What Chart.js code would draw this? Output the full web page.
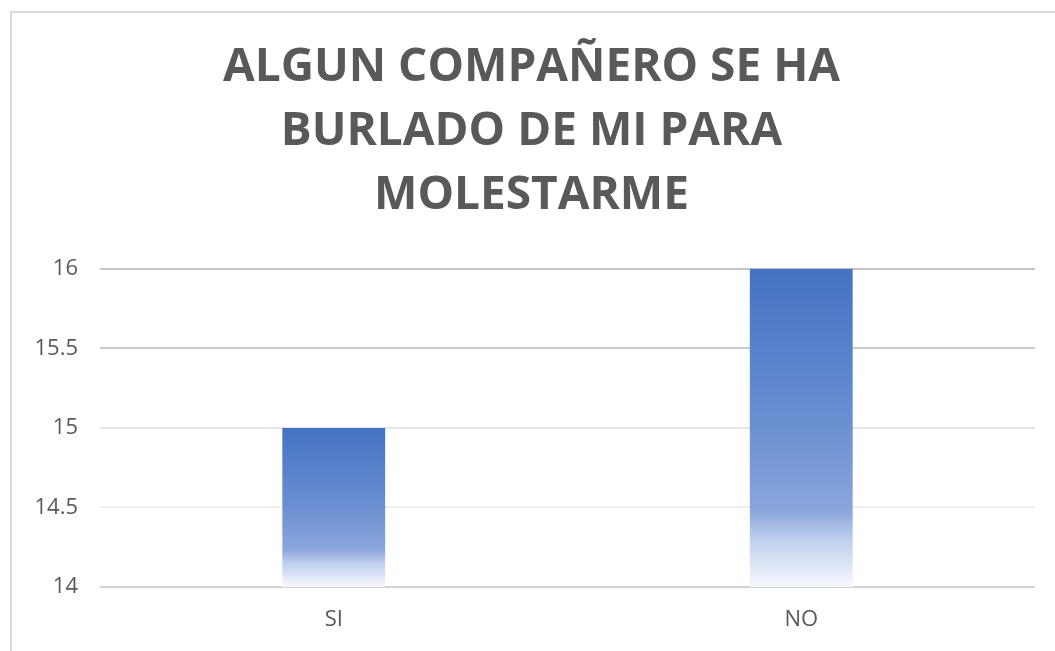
<!DOCTYPE html>
<html>
<head>
<meta charset="utf-8">
<script src="https://cdn.jsdelivr.net/npm/chart.js@4/dist/chart.umd.min.js"></script>
<style>
  html, body { margin: 0; padding: 0; background: #fff; }
  #wrap { position: absolute; left: 0; top: 0; width: 1055px; height: 651px; }
  #frame {
    position: absolute; left: 10px; top: 11px; width: 1100px; height: 700px;
    border-left: 2px solid #d9d9d9; border-top: 2px solid #d9d9d9;
    pointer-events: none;
  }
</style>
</head>
<body>
<div id="wrap"><canvas id="chart" width="1055" height="651"></canvas></div>
<div id="frame"></div>
<script>
'use strict';

// Datos del gráfico
const categorias = ['SI', 'NO'];
const valores = [15, 16];
const tituloLineas = ['ALGUN COMPAÑERO SE HA', 'BURLADO DE MI PARA', 'MOLESTARME'];
const yMin = 14;
const yMax = 16;
const yPaso = 0.5;

// Colores de las líneas de la cuadrícula (de 14 a 16)
const coloresGrid = ['#d2d2d2', '#efefef', '#e6e6e6', '#cacaca', '#c4c4c4'];

function degradado(context) {
  const chart = context.chart;
  if (!chart.chartArea) return '#4472C4';
  const y = chart.scales.y;
  const top = y.getPixelForValue(context.raw);
  const base = y.getPixelForValue(yMin);
  const g = chart.ctx.createLinearGradient(0, top, 0, base);
  g.addColorStop(0, 'rgb(68,114,196)');
  g.addColorStop(0.5, 'rgb(108,144,210)');
  g.addColorStop(0.76, 'rgb(138,166,220)');
  g.addColorStop(0.86, 'rgb(196,210,238)');
  g.addColorStop(1, 'rgb(246,248,253)');
  return g;
}

const ctx = document.getElementById('chart').getContext('2d');
new Chart(ctx, {
  type: 'bar',
  data: {
    labels: categorias,
    datasets: [{
      data: valores,
      backgroundColor: degradado,
      borderWidth: 0,
      barPercentage: 0.22,
      categoryPercentage: 1
    }]
  },
  options: {
    responsive: false,
    animation: false,
    layout: { padding: { left: 28, right: 20, top: 0, bottom: 0 } },
    plugins: {
      legend: { display: false },
      tooltip: { enabled: false },
      title: {
        display: true,
        text: tituloLineas,
        color: '#595959',
        font: { family: 'Open Sans', size: 46, weight: 'bold', lineHeight: 1.39 },
        padding: { top: 36, bottom: 41 }
      }
    },
    scales: {
      x: {
        grid: { display: false, drawTicks: false },
        border: { display: false },
        ticks: {
          color: '#595959',
          font: { family: 'Open Sans', size: 22 },
          padding: 20
        },
        afterFit: function(scale) { scale.height = 64; }
      },
      y: {
        min: yMin,
        max: yMax,
        grid: {
          drawTicks: false,
          lineWidth: 2,
          color: function(c) { return coloresGrid[c.index] || '#d9d9d9'; }
        },
        border: { display: false },
        ticks: {
          stepSize: yPaso,
          color: '#595959',
          font: { family: 'Open Sans', size: 22 },
          padding: 22,
          callback: function(v) { return String(v); }
        },
        afterFit: function(scale) { scale.width = 72; }
      }
    }
  }
});
</script>
</body>
</html>
